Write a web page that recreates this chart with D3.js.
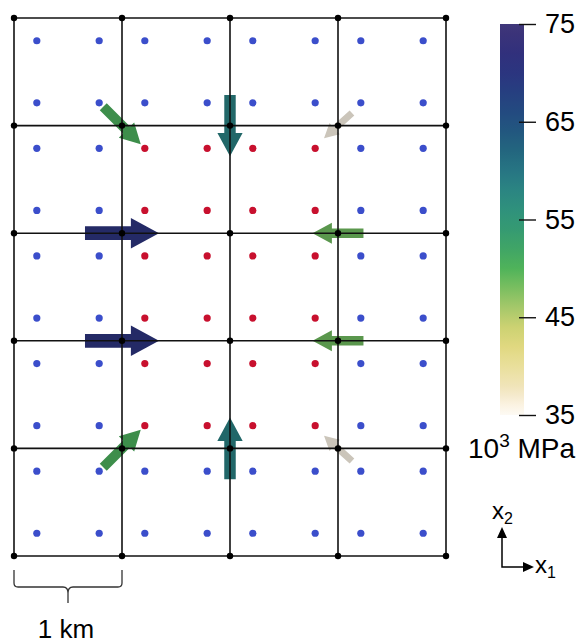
<!DOCTYPE html>
<html><head><meta charset="utf-8">
<script src="https://cdn.jsdelivr.net/npm/d3@7"></script>
<style>body{margin:0;background:#fff}svg{display:block}text{font-family:"Liberation Sans",Arial,sans-serif}</style>
</head><body>
<svg id="c" width="586" height="644"></svg>
<script>
// ---- data ----
const nCols = 4, nRows = 5;                       // grid cells
const redCols = [1, 2];                           // cells with red Gauss points
const redRows = [1, 2, 3];
const gaussOffsets = [-0.2887, 0.2887];           // ±1/(2√3) in cell units
const arrowCol = [1, 2, 3, 1, 3, 1, 3, 1, 2, 3];  // node column index
const arrowRow = [4, 4, 4, 3, 3, 2, 2, 1, 1, 1];  // node row index (from bottom)
const arrowAngle = [-45, -90, -138, 0, 180, 0, 180, 45, 90, 138];            // degrees
const arrowMag = [50.5, 58.5, 35.8, 70.5, 48.5, 70.5, 48.5, 50.5, 58.8, 35.8]; // 10^3 MPa
const cbValues = [35,36,37,38,40,42,44,46,48,50,52,54,56,58,60,62,64,66,68,70,72,74,75];
const cbColors = ["#fdfaf4","#fbf3e2","#f5eacd","#f0e4b8","#e9df9b","#e0d880","#ccd272","#a5c86a","#7abe60","#4fb35a","#40a566","#359a72","#2f917c","#2b8582","#277583","#23667f","#22577f","#234a80","#263f80","#2b357f","#31307c","#3b3379","#40387a"];
const cbTicks = [35, 45, 55, 65, 75];

// ---- scales ----
const svg = d3.select("#c");
const x = d3.scaleLinear().domain([0, nCols]).range([14, 446]);
const y = d3.scaleLinear().domain([0, nRows]).range([556, 18]);
const color = d3.scaleLinear().domain(cbValues).range(cbColors).interpolate(d3.interpolateRgb);
const len = d3.scaleLinear().domain([0, 75]).range([0, 78.75]);
const cbY = d3.scaleLinear().domain([35, 75]).range([415, 24]);

// ---- Gauss points ----
const pts = [];
for (let i = 0; i < nCols; i++) for (let j = 0; j < nRows; j++) {
  const red = redCols.includes(i) && redRows.includes(j);
  for (const a of gaussOffsets) for (const b of gaussOffsets)
    pts.push({cx: i + 0.5 + a, cy: j + 0.5 + b, red});
}
svg.append("g").selectAll("circle").data(pts).join("circle")
  .attr("cx", d => x(d.cx)).attr("cy", d => y(d.cy)).attr("r", 3.6)
  .attr("fill", d => d.red ? "#c8102e" : "#3b4ecb");

// ---- arrows ----
const arrows = arrowCol.map((c, k) => ({c, r: arrowRow[k], a: arrowAngle[k], m: arrowMag[k]}));
svg.append("g").selectAll("path").data(arrows).join("path")
  .attr("transform", d => `translate(${x(d.c)},${y(d.r)}) rotate(${-d.a})`)
  .attr("d", d => {
    const L = len(d.m), s = 0.093 * L, h = 0.38 * L, w = 0.205 * L;
    return `M${-L/2},${-s}L${L/2-h},${-s}L${L/2-h},${-w}L${L/2},0L${L/2-h},${w}L${L/2-h},${s}L${-L/2},${s}Z`;
  })
  .attr("fill", d => d3.color(color(d.m)).darker(0.6).formatHex());

// ---- grid lines ----
const g = svg.append("g").attr("stroke", "#111").attr("stroke-width", 1.6);
g.selectAll(".v").data(d3.range(nCols + 1)).join("line")
  .attr("x1", d => x(d)).attr("x2", d => x(d)).attr("y1", y(0)).attr("y2", y(nRows));
g.selectAll(".h").data(d3.range(nRows + 1)).join("line")
  .attr("y1", d => y(d)).attr("y2", d => y(d)).attr("x1", x(0)).attr("x2", x(nCols));

// ---- nodes ----
const nodes = [];
for (let i = 0; i <= nCols; i++) for (let j = 0; j <= nRows; j++) nodes.push([i, j]);
svg.append("g").selectAll("circle").data(nodes).join("circle")
  .attr("cx", d => x(d[0])).attr("cy", d => y(d[1])).attr("r", 3.2).attr("fill", "#000");

// ---- colorbar ----
const grad = svg.append("defs").append("linearGradient").attr("id", "cb")
  .attr("x1", 0).attr("x2", 0).attr("y1", 1).attr("y2", 0);
grad.selectAll("stop").data(d3.range(0, 1.0001, 0.025)).join("stop")
  .attr("offset", d => d).attr("stop-color", d => color(35 + 40 * d));
svg.append("rect").attr("x", 500).attr("y", cbY(75)).attr("width", 24)
  .attr("height", cbY(35) - cbY(75)).attr("fill", "url(#cb)");
const ax = svg.append("g").attr("transform", "translate(519,0)")
  .call(d3.axisRight(cbY).tickValues(cbTicks).tickSize(17).tickPadding(9));
ax.select(".domain").remove();
ax.selectAll("line").attr("stroke", "#111").attr("stroke-width", 1.4);
ax.selectAll("text").attr("font-size", 27).attr("fill", "#000")
  .attr("font-family", "Liberation Sans, Arial, sans-serif");
const unit = svg.append("text").attr("x", 468).attr("y", 458).attr("font-size", 28).attr("fill", "#000");
unit.append("tspan").text("10");
unit.append("tspan").attr("dy", -11).attr("font-size", 19).text("3");
unit.append("tspan").attr("dy", 11).text(" MPa");

// ---- scale brace ----
const bx0 = x(0), bx1 = x(1), bm = (bx0 + bx1) / 2;
svg.append("path").attr("fill", "none").attr("stroke", "#333").attr("stroke-width", 1.3)
  .attr("d", `M${bx0},570L${bx0},583Q${bx0},587 ${bx0+4},587L${bm-5},587Q${bm},587 ${bm},593L${bm},603` +
             `M${bx1},570L${bx1},583Q${bx1},587 ${bx1-4},587L${bm+5},587Q${bm},587 ${bm},593`);
svg.append("text").attr("x", bm - 2).attr("y", 638).attr("text-anchor", "middle")
  .attr("font-size", 26).attr("fill", "#000").text("1 km");

// ---- axis glyph ----
const ox = 502, oy = 567;
svg.append("path").attr("fill", "none").attr("stroke", "#000").attr("stroke-width", 1.5)
  .attr("d", `M${ox},${oy-32}L${ox},${oy}L${ox+24},${oy}`);
svg.append("path").attr("fill", "#000")
  .attr("d", `M${ox},${oy-40}L${ox-5},${oy-29}L${ox+5},${oy-29}Z M${ox+32},${oy}L${ox+21},${oy-5}L${ox+21},${oy+5}Z`);
const t2 = svg.append("text").attr("x", 492).attr("y", 519).attr("font-size", 24).attr("fill", "#000");
t2.append("tspan").text("x");
t2.append("tspan").attr("dy", 5).attr("font-size", 16).text("2");
const t1 = svg.append("text").attr("x", 535).attr("y", 573).attr("font-size", 24).attr("fill", "#000");
t1.append("tspan").text("x");
t1.append("tspan").attr("dy", 5).attr("font-size", 16).text("1");
</script>
</body></html>
